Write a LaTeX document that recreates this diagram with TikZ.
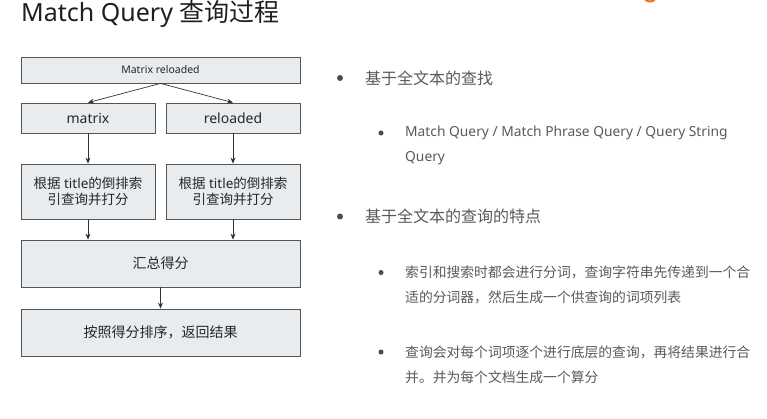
\documentclass[tikz,border=0pt]{standalone}
\usepackage{fontspec}
\setmainfont{Noto Sans}
\newfontfamily\cjk{Noto Sans CJK SC}
\usetikzlibrary{arrows.meta,positioning}
\definecolor{boxfill}{HTML}{E9ECEE}
\definecolor{boxline}{HTML}{555555}
\definecolor{txtgray}{HTML}{595959}
\definecolor{logo}{HTML}{F26B21}

\begin{document}
\begin{tikzpicture}[
  x=1pt, y=-1pt,
  box/.style={rectangle, draw=boxline, line width=0.8pt, fill=boxfill,
              minimum width=#1, inner sep=0pt, align=center, text=black!85},
  box/.default=134pt,
  arr/.style={-{Stealth[length=6pt,width=5pt]}, line width=0.7pt, draw=black!80},
  ttl/.style={anchor=west, inner sep=0pt, font=\fontsize{25}{29}\selectfont, text=black!88},
  lvla/.style={anchor=west, inner sep=0pt, font=\cjk\fontsize{16}{20}\selectfont, text=txtgray},
  lvlb/.style={anchor=west, inner sep=0pt, align=left, font=\fontsize{13.8}{25}\selectfont, text=txtgray},
  lvlc/.style={lvlb, font=\cjk\fontsize{13.8}{25}\selectfont},
  dota/.style={circle, fill=black!70, inner sep=0pt, minimum size=6pt},
  dotb/.style={circle, fill=black!70, inner sep=0pt, minimum size=5pt},
]
\useasboundingbox (0,0) rectangle (767,418);
\clip (0,0) rectangle (767,418);

% ---------- title ----------
\node[ttl] (title) at (21,13.5) {Match Query {\cjk 查询过程}};
\draw[logo, line width=2pt] (650,-5) circle (6.5);

% ---------- flow chart ----------
\node[box=279pt, minimum height=26pt, font=\fontsize{10.5}{12}\selectfont] (top) at (160.5,70) {Matrix reloaded};
\node[box, minimum height=30pt, font=\fontsize{14}{16}\selectfont] (mtx) at (88,118) {matrix};
\node[box, minimum height=30pt, font=\fontsize{14}{16}\selectfont] (rld) at (233,118) {reloaded};
\node[box, minimum height=55pt, font=\fontsize{13.5}{16.5}\selectfont] (idxa) at (88,191.5) {{\cjk 根据} title{\cjk 的倒排索}\\{\cjk 引查询并打分}};
\node[box, minimum height=55pt, font=\fontsize{13.5}{16.5}\selectfont] (idxb) at (233,191.5) {{\cjk 根据} title{\cjk 的倒排索}\\{\cjk 引查询并打分}};
\node[box=279pt, minimum height=47pt, font=\cjk\fontsize{14}{16}\selectfont] (sum) at (160.5,263.5) {汇总得分};
\node[box=279pt, minimum height=47pt, font=\cjk\fontsize{14}{16}\selectfont] (res) at (160.5,332.5) {按照得分排序，返回结果};

\draw[arr] (top.south) -- (mtx.north);
\draw[arr] (top.south) -- (rld.north);
\draw[arr] (mtx.south) -- (idxa.north);
\draw[arr] (rld.south) -- (idxb.north);
\draw[arr] (idxa.south) -- (idxa.south |- sum.north);
\draw[arr] (idxb.south) -- (idxb.south |- sum.north);
\draw[arr] (sum.south) -- (res.north);

% ---------- bullet list ----------
\node[dota] (ba) at (340,78) {};
\node[lvla] (ta) at (365,78) {基于全文本的查找};
\node[dotb] (baa) at (381,133) {};
\node[lvlb] (taa) at (405,145.5) {Match Query / Match Phrase Query / Query String\\Query};
\node[dota] (bb) at (340,216.5) {};
\node[lvla] (tb) at (365,216.5) {基于全文本的查询的特点};
\node[dotb] (bba) at (381,272.5) {};
\node[lvlc] (tba) at (405,285) {索引和搜索时都会进行分词，查询字符串先传递到一个合\\适的分词器，然后生成一个供查询的词项列表};
\node[dotb] (bbb) at (381,352) {};
\node[lvlc] (tbb) at (405,364.5) {查询会对每个词项逐个进行底层的查询，再将结果进行合\\并。并为每个文档生成一个算分};
\end{tikzpicture}
\end{document}
